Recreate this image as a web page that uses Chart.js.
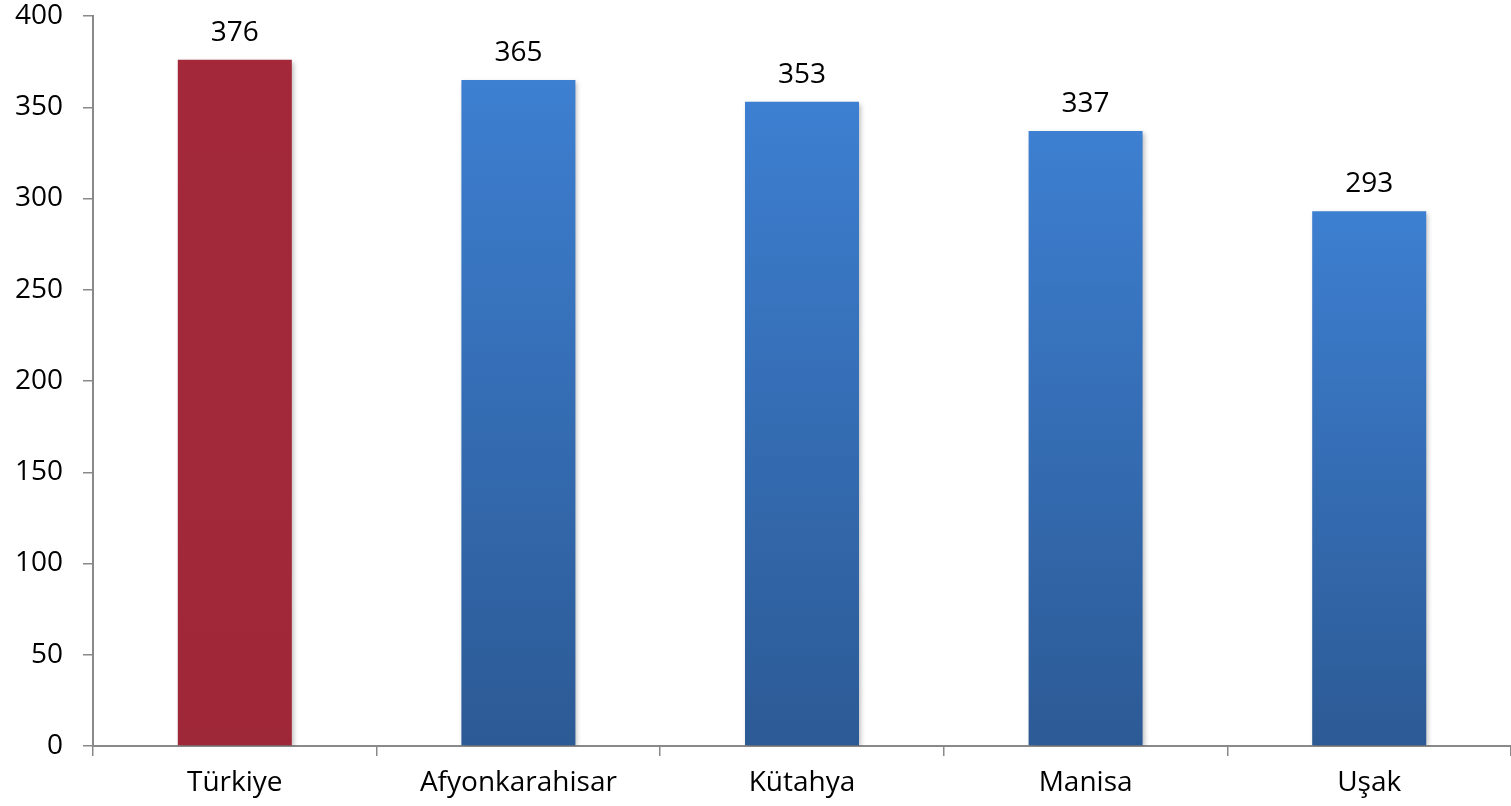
<!DOCTYPE html>
<html>
<head>
<meta charset="utf-8">
<script src="https://cdn.jsdelivr.net/npm/chart.js@4/dist/chart.umd.min.js"></script>
<style>
html,body{margin:0;padding:0;background:#fff;}
#wrap{width:1511px;height:806px;position:relative;}
</style>
</head>
<body>
<div id="wrap"><canvas id="c" width="1511" height="806"></canvas></div>
<script>
const categories = ["Türkiye", "Afyonkarahisar", "Kütahya", "Manisa", "Uşak"];
const values = [376, 365, 353, 337, 293];
const yTicks = [0, 50, 100, 150, 200, 250, 300, 350, 400];

const FONT = "'Open Sans', sans-serif";

function barFill(ctx) {
  const chart = ctx.chart;
  const area = chart.chartArea;
  if (!area) return '#3b7bca';
  const y = chart.scales.y;
  const v = values[ctx.dataIndex];
  const top = y.getPixelForValue(v);
  const bot = y.getPixelForValue(0);
  const g = chart.ctx.createLinearGradient(0, top, 0, bot);
  if (ctx.dataIndex === 0) {
    g.addColorStop(0, '#a3293a');
    g.addColorStop(1, '#9f2838');
  } else {
    g.addColorStop(0, '#3d7fd1');
    g.addColorStop(1, '#2c5a95');
  }
  return g;
}

const shadowPlugin = {
  id: 'shadow',
  beforeDatasetsDraw(chart) {
    const c = chart.ctx;
    c.save();
    c.shadowColor = 'rgba(0,0,0,0.28)';
    c.shadowBlur = 5;
    c.shadowOffsetX = 2;
    c.shadowOffsetY = 2;
  },
  afterDatasetsDraw(chart) {
    chart.ctx.restore();
  }
};

const labelPlugin = {
  id: 'valueLabels',
  afterDatasetsDraw(chart) {
    const c = chart.ctx;
    const meta = chart.getDatasetMeta(0);
    c.save();
    c.font = "28px " + FONT;
    c.fillStyle = '#000';
    c.textAlign = 'center';
    c.textBaseline = 'alphabetic';
    meta.data.forEach((bar, i) => {
      c.fillText(String(values[i]), bar.x, bar.y - 19);
    });
    c.restore();
  }
};

new Chart(document.getElementById('c'), {
  type: 'bar',
  data: {
    labels: categories,
    datasets: [{
      data: values,
      backgroundColor: barFill,
      borderWidth: 0,
      categoryPercentage: 1.0,
      barPercentage: 0.402
    }]
  },
  options: {
    responsive: false,
    animation: false,
    devicePixelRatio: 1,
    layout: { padding: { top: 16, right: 0, bottom: 0, left: 0 } },
    plugins: { legend: { display: false }, tooltip: { enabled: false } },
    scales: {
      x: {
        offset: true,
        afterFit(s) { s.height = 60; s.paddingLeft = 0; s.paddingRight = 0; },
        grid: { display: true, offset: true, drawOnChartArea: false, drawTicks: true, tickLength: 10, color: '#898989', lineWidth: 1.5 },
        border: { display: true, color: '#898989', width: 2 },
        ticks: { color: '#000', font: { family: FONT, size: 28 }, padding: 10, maxRotation: 0, autoSkip: false }
      },
      y: {
        min: 0, max: 400,
        afterFit(s) { s.width = 93; s.paddingTop = 0; s.paddingBottom = 0; },
        afterBuildTicks(s) { s.ticks = yTicks.map(v => ({ value: v })); },
        grid: { display: true, drawOnChartArea: false, drawTicks: true, tickLength: 10, color: '#898989', lineWidth: 1.5 },
        border: { display: true, color: '#898989', width: 2 },
        ticks: { color: '#000', font: { family: FONT, size: 28 }, padding: 20 }
      }
    }
  },
  plugins: [shadowPlugin, labelPlugin]
});
</script>
</body>
</html>
